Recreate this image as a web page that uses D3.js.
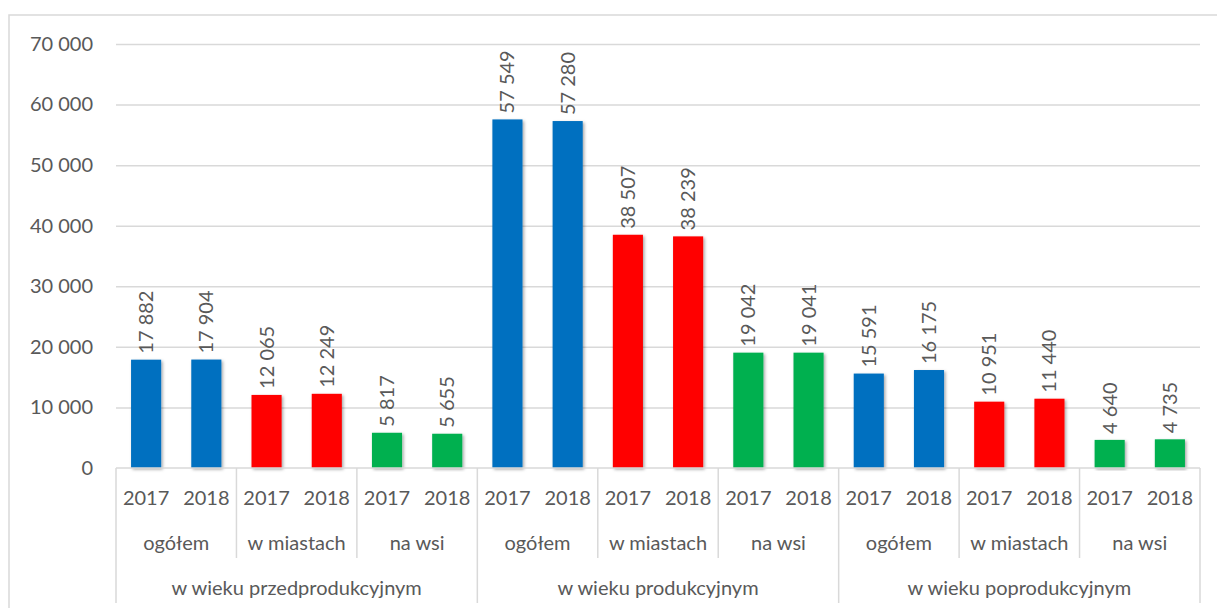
<!DOCTYPE html>
<html lang="pl">
<head>
<meta charset="UTF-8">
<title>Ludność według ekonomicznych grup wieku</title>
<style>
    body { margin: 0; background: #fff; }
    svg text { font-family: Lato, "Open Sans", sans-serif; fill: #595959; }
    .grid line { stroke: #d9d9d9; stroke-width: 1.5; }
    .frame { stroke: #d9d9d9; stroke-width: 1.5; fill: none; }
</style>
</head>
<body>
<script src="https://d3js.org/d3.v7.min.js"></script>
<script>
    const width = 1217;
    const height = 608;

    // dane
    const groups = ['w wieku przedprodukcyjnym', 'w wieku produkcyjnym', 'w wieku poprodukcyjnym'];
    const subgroups = ['ogółem', 'w miastach', 'na wsi'];
    const years = ['2017', '2018'];
    const przedprodukcyjny = [17882, 17904, 12065, 12249, 5817, 5655];
    const produkcyjny = [57549, 57280, 38507, 38239, 19042, 19041];
    const poprodukcyjny = [15591, 16175, 10951, 11440, 4640, 4735];
    const yTicks = [0, 10000, 20000, 30000, 40000, 50000, 60000, 70000];
    const colors = ['#0070c0', '#ff0000', '#00b050'];

    const plot = { left: 116, right: 1200, top: 44, bottom: 468 };

    // płaska lista słupków
    const series = [przedprodukcyjny, produkcyjny, poprodukcyjny];
    const bars = [];
    series.forEach(function (vals, g) {
        vals.forEach(function (v, k) {
            bars.push({ g: g, s: Math.floor(k / 2), y: k % 2, value: v, id: g * 6 + k });
        });
    });

    const locale = d3.formatLocale({ decimal: ',', thousands: ' ', grouping: [3], currency: ['', ' zł'] });
    const fmt = locale.format(',d');

    const x = d3.scaleBand()
        .domain(d3.range(bars.length))
        .range([plot.left, plot.right])
        .paddingInner(0.5)
        .paddingOuter(0.25);
    const step = x.step();

    const yScale = d3.scaleLinear()
        .domain([0, 70000])
        .range([plot.bottom, plot.top]);

    const svg = d3.select('body').append('svg').attr('width', width).attr('height', height);

    const defs = svg.append('defs');
    defs.append('filter').attr('id', 'shadow')
        .attr('x', '-20%').attr('y', '-5%').attr('width', '150%').attr('height', '115%')
        .append('feDropShadow')
        .attr('dx', 1.5).attr('dy', 1.5).attr('stdDeviation', 1.5)
        .attr('flood-color', '#000').attr('flood-opacity', 0.35);

    // ramka wykresu
    svg.append('path').attr('class', 'frame')
        .attr('d', 'M9,' + height + 'V15H' + width);

    // siatka + oś Y
    const yAxis = svg.append('g')
        .attr('class', 'grid')
        .attr('transform', 'translate(' + plot.left + ',0)')
        .call(d3.axisLeft(yScale)
            .tickValues(yTicks)
            .tickSize(-(plot.right - plot.left))
            .tickPadding(23)
            .tickFormat(fmt));
    yAxis.select('.domain').remove();
    yAxis.selectAll('.tick').filter(function (d) { return d === 0; }).select('line').remove();
    yAxis.selectAll('text').attr('font-size', 20).style('fill', '#595959');

    // słupki
    svg.append('g').selectAll('rect')
        .data(bars)
        .enter()
        .append('rect')
        .attr('x', function (d) { return x(d.id); })
        .attr('y', function (d) { return yScale(d.value); })
        .attr('width', x.bandwidth())
        .attr('height', function (d) { return yScale(0) - yScale(d.value); })
        .attr('fill', function (d) { return colors[d.s]; })
        .attr('filter', 'url(#shadow)');

    // etykiety danych
    svg.append('g').selectAll('text')
        .data(bars)
        .enter()
        .append('text')
        .attr('transform', function (d) {
            return 'translate(' + (x(d.id) + x.bandwidth() / 2) + ',' + (yScale(d.value) - 6) + ') rotate(-90)';
        })
        .attr('dy', '0.35em')
        .attr('font-size', 20)
        .text(function (d) { return fmt(d.value); });

    // oś kategorii – trzy poziomy
    const cat = svg.append('g');
    const left0 = plot.left, right0 = plot.right;
    const subW = step * 2;
    const grpW = step * 6;

    cat.append('line').attr('class', 'frame')
        .attr('x1', left0).attr('x2', right0).attr('y1', plot.bottom).attr('y2', plot.bottom);

    // lata
    cat.selectAll('.yr')
        .data(bars)
        .enter()
        .append('text')
        .attr('class', 'yr')
        .attr('x', function (d) { return x(d.id) + x.bandwidth() / 2; })
        .attr('y', 505)
        .attr('text-anchor', 'middle')
        .attr('font-size', 20)
        .text(function (d) { return years[d.y]; });

    // podgrupy
    const subs = [];
    groups.forEach(function (g, gi) {
        subgroups.forEach(function (s, si) { subs.push({ name: s, i: gi * 3 + si }); });
    });
    cat.selectAll('.sub')
        .data(subs)
        .enter()
        .append('text')
        .attr('class', 'sub')
        .attr('x', function (d) { return left0 + d.i * subW + subW / 2; })
        .attr('y', 550)
        .attr('text-anchor', 'middle')
        .attr('font-size', 20)
        .text(function (d) { return d.name; });

    cat.selectAll('.subline')
        .data(d3.range(1, subs.length).filter(function (i) { return i % 3 !== 0; }))
        .enter()
        .append('line')
        .attr('class', 'frame')
        .attr('x1', function (i) { return left0 + i * subW; })
        .attr('x2', function (i) { return left0 + i * subW; })
        .attr('y1', plot.bottom).attr('y2', 558);

    // grupy
    cat.selectAll('.grp')
        .data(groups)
        .enter()
        .append('text')
        .attr('class', 'grp')
        .attr('x', function (d, i) { return left0 + i * grpW + grpW / 2; })
        .attr('y', 595)
        .attr('text-anchor', 'middle')
        .attr('font-size', 20)
        .text(function (d) { return d; });

    cat.selectAll('.grpline')
        .data(d3.range(0, groups.length + 1))
        .enter()
        .append('line')
        .attr('class', 'frame')
        .attr('x1', function (i) { return left0 + i * grpW; })
        .attr('x2', function (i) { return left0 + i * grpW; })
        .attr('y1', plot.bottom).attr('y2', 603);
</script>
</body>
</html>
